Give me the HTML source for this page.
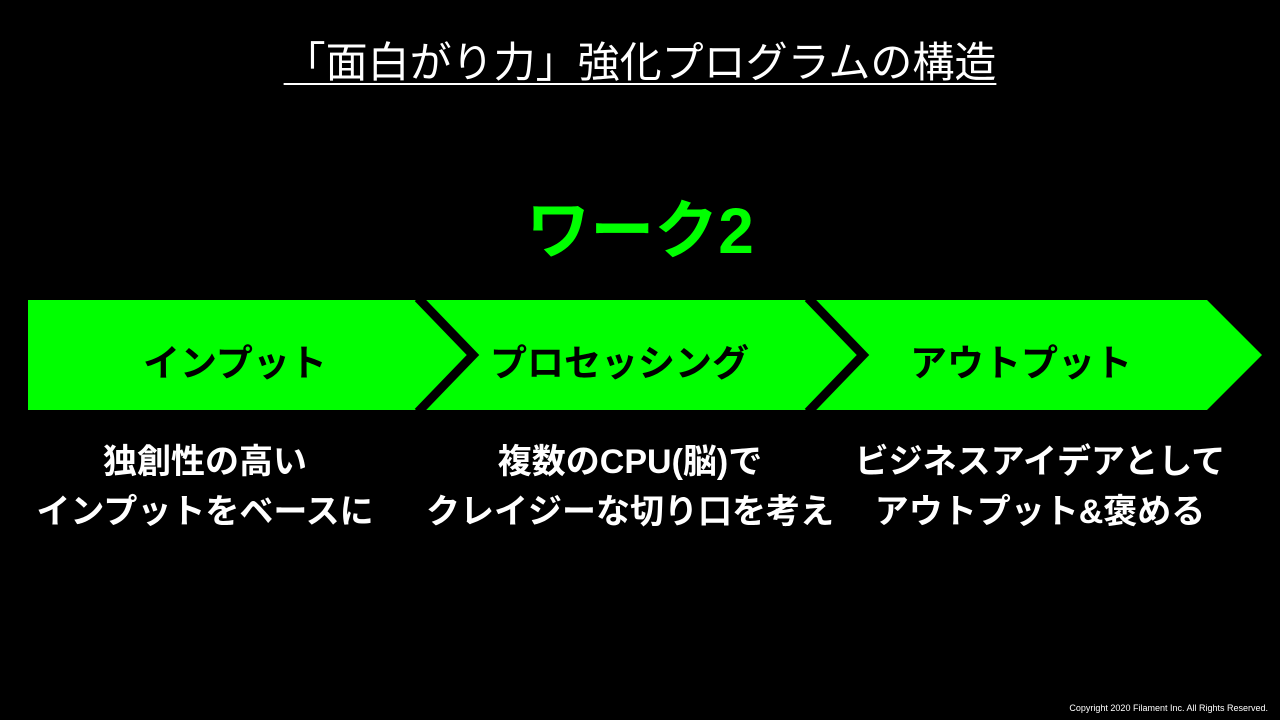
<!DOCTYPE html>
<html><head><meta charset="utf-8"><style>
body{margin:0;width:1280px;height:720px;background:#000;overflow:hidden;position:relative;font-family:"Liberation Sans","Noto Sans CJK JP",sans-serif}
.t{position:absolute;color:#fff;white-space:nowrap}
</style></head><body>
<div class="t" style="left:0;width:1280px;text-align:center;top:29px;font-size:42px;"><span style="text-decoration:underline;text-underline-offset:6px;text-decoration-thickness:2px">「面白がり力」強化プログラムの構造</span></div>
<div class="t" style="left:0;width:1280px;text-align:center;top:180px;font-size:64px;font-weight:bold;color:#00ff00">ワーク2</div>
<svg style="position:absolute;left:0;top:0" width="1280" height="720">
<polygon points="28,300 1207,300 1262,355 1207,410 28,410" fill="#00ff00"/>
<polyline points="418,298 473,355 418,412" fill="none" stroke="#000" stroke-width="9"/>
<polyline points="808,298 863,355 808,412" fill="none" stroke="#000" stroke-width="9"/>
</svg>
<div class="t" style="left:143px;top:333px;font-size:37px;font-weight:bold;color:#000">インプット</div>
<div class="t" style="left:490px;top:333px;font-size:37px;font-weight:bold;color:#000">プロセッシング</div>
<div class="t" style="left:910px;top:333px;font-size:37px;font-weight:bold;color:#000">アウトプット</div>
<div class="t" style="left:5px;width:400px;text-align:center;top:437px;font-size:34px;font-weight:bold;line-height:50px">独創性の高い<br>インプットをベースに</div>
<div class="t" style="left:380px;width:500px;text-align:center;top:437px;font-size:34px;font-weight:bold;line-height:50px">複数のCPU(脳)で<br>クレイジーな切り口を考え</div>
<div class="t" style="left:840px;width:400px;text-align:center;top:437px;font-size:34px;font-weight:bold;line-height:50px">ビジネスアイデアとして<br>アウトプット&amp;褒める</div>
<div class="t" style="right:12px;top:703px;font-size:9px">Copyright 2020 Filament Inc. All Rights Reserved.</div>
</body></html>
